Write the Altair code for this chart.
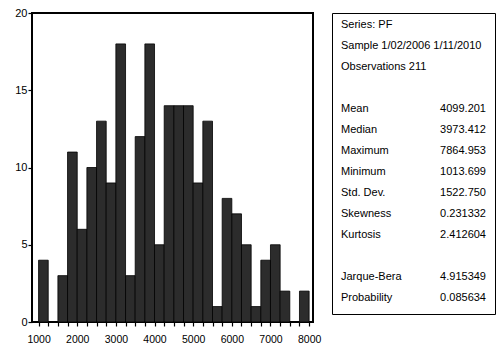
import altair as alt
import pandas as pd

# Histogram bins (lower / upper edges) and counts
bin_lo = [1000, 1250, 1500, 1750, 2000, 2250, 2500, 2750, 3000, 3250, 3500, 3750, 4000, 4250,
          4500, 4750, 5000, 5250, 5500, 5750, 6000, 6250, 6500, 6750, 7000, 7250, 7500, 7750]
bin_hi = [1250, 1500, 1750, 2000, 2250, 2500, 2750, 3000, 3250, 3500, 3750, 4000, 4250, 4500,
          4750, 5000, 5250, 5500, 5750, 6000, 6250, 6500, 6750, 7000, 7250, 7500, 7750, 8000]
counts = [4, 0, 3, 11, 6, 10, 13, 9, 18, 3, 12, 18, 5, 14,
          14, 14, 9, 13, 1, 8, 7, 5, 1, 4, 5, 2, 0, 2]

x_ticks = [1000, 1250, 1500, 1750, 2000, 2250, 2500, 2750, 3000, 3250, 3500, 3750, 4000, 4250,
           4500, 4750, 5000, 5250, 5500, 5750, 6000, 6250, 6500, 6750, 7000, 7250, 7500, 7750, 8000]
y_ticks = [0, 5, 10, 15, 20]

# Statistics panel text
header_lines = ["Series: PF", "Sample 1/02/2006 1/11/2010", "Observations 211"]
stat_names = ["Mean", "Median", "Maximum", "Minimum", "Std. Dev.", "Skewness", "Kurtosis"]
stat_values = ["4099.201", "3973.412", "7864.953", "1013.699", "1522.750", "0.231332", "2.412604"]
test_names = ["Jarque-Bera", "Probability"]
test_values = ["4.915349", "0.085634"]

FONT = "Liberation Sans"

hist_df = pd.DataFrame({"lo": bin_lo, "hi": bin_hi, "count": counts})
hist_df = hist_df[hist_df["count"] > 0]

rows = []
for i, t in enumerate(header_lines):
    rows.append({"row": i, "label": t, "value": ""})
for i, (n, v) in enumerate(zip(stat_names, stat_values)):
    rows.append({"row": 4 + i, "label": n, "value": v})
for i, (n, v) in enumerate(zip(test_names, test_values)):
    rows.append({"row": 12 + i, "label": n, "value": v})
stats_df = pd.DataFrame(rows)

hist = alt.Chart(hist_df).mark_bar(
    fill="#2c2c2c", stroke="black", strokeWidth=0.8
).encode(
    x=alt.X("lo:Q", title=None,
            scale=alt.Scale(domain=[830, 8100], nice=False, zero=False),
            axis=alt.Axis(values=x_ticks, format="d",
                          labelExpr="datum.value % 1000 === 0 ? datum.label : ''",
                          labelOverlap=False, tickSize=4, labelPadding=8)),
    x2="hi:Q",
    y=alt.Y("count:Q", title=None,
            scale=alt.Scale(domain=[0, 20], nice=False),
            axis=alt.Axis(values=y_ticks, tickSize=4, labelPadding=1, labelFontSize=11)),
    y2=alt.datum(0),
).properties(width=281, height=309,
             view=alt.ViewBackground(stroke="black", strokeWidth=2))

base = alt.Chart(stats_df).encode(
    y=alt.Y("row:Q", axis=None,
            scale=alt.Scale(domain=[-0.571, 13.762], reverse=True, nice=False, zero=False))
)
labels = base.mark_text(align="left", baseline="middle", font=FONT, fontSize=11,
                        color="black").encode(x=alt.value(9), text="label:N")
values = base.mark_text(align="right", baseline="middle", font=FONT, fontSize=11,
                        color="black").encode(x=alt.value(154), text="value:N")
panel = alt.layer(labels, values).properties(
    width=163, height=301,
    view=alt.ViewBackground(stroke="black", strokeWidth=1))

chart = alt.hconcat(hist, panel, spacing=19, bounds="flush").properties(
    padding={"left": 5, "top": -2, "right": 0, "bottom": 0},
    background="white",
).configure_axis(
    labelFont=FONT, labelFontSize=10.5, labelColor="black",
    tickColor="black", tickWidth=1.2, domain=False, grid=False,
)

chart.save("out.html", embed_options={"renderer": "svg", "actions": False})
